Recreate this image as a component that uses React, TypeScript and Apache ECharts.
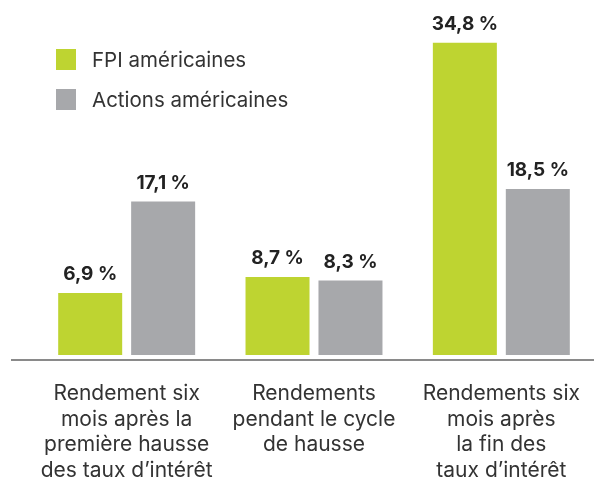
import React, { useEffect, useRef } from "react";
import * as echarts from "echarts";

const categories = [
  "Rendement six\nmois après la\npremière hausse\ndes taux d’intérêt",
  "Rendements\npendant le cycle\nde hausse",
  "Rendements six\nmois après\nla fin des\ntaux d’intérêt",
];
const seriesNames = ["FPI américaines", "Actions américaines"];
const fpiValues = [6.9, 8.7, 34.8];
const actionsValues = [17.1, 8.3, 18.5];
const colors = ["#bed431", "#a7a8ab"];

export default function App() {
  const ref = useRef<HTMLDivElement>(null);
  useEffect(() => {
    if (!ref.current) return;
    const chart = echarts.init(ref.current, undefined, { renderer: "svg" });
    const fmt = (p: any) => String(p.value).replace(".", ",") + " %";
    const labelStyle = {
      show: true,
      position: "top",
      distance: 10,
      formatter: fmt,
      fontFamily: "Inter",
      fontWeight: 700,
      fontSize: 19,
      color: "#222222",
    };
    chart.setOption({
      animation: false,
      textStyle: { fontFamily: "Inter" },
      grid: { left: 33, right: -5, top: 41, bottom: 122.5, containLabel: false },
      legend: {
        orient: "vertical",
        left: 56,
        top: 49,
        padding: 0,
        itemWidth: 20,
        itemHeight: 21,
        itemGap: 19,
        icon: "rect",
        selectedMode: false,
        textStyle: {
          fontFamily: "Inter",
          fontSize: 20.5,
          color: "#333333",
          padding: [0, 0, 0, 11],
        },
        data: seriesNames,
      },
      xAxis: {
        type: "category",
        data: categories,
        axisLine: { show: false },
        axisTick: { show: false },
        axisLabel: {
          interval: 0,
          margin: 25,
          fontFamily: "Inter",
          fontSize: 21,
          lineHeight: 25.5,
          color: "#333333",
          align: "center",
        },
      },
      yAxis: {
        type: "value",
        min: 0,
        max: 35,
        show: false,
        splitLine: { show: false },
      },
      graphic: [
        {
          type: "line",
          shape: { x1: 11, y1: 360, x2: 594, y2: 360 },
          style: { stroke: "#8a8a8a", lineWidth: 2 },
          z: 10,
        },
      ],
      series: [
        {
          name: seriesNames[0],
          type: "bar",
          data: fpiValues,
          barWidth: 64,
          barGap: "14%",
          itemStyle: { color: colors[0] },
          label: labelStyle,
        },
        {
          name: seriesNames[1],
          type: "bar",
          data: actionsValues,
          barWidth: 64,
          barGap: "14%",
          itemStyle: { color: colors[1] },
          label: labelStyle,
        },
      ],
    });
    return () => chart.dispose();
  }, []);
  return (
    <div
      ref={ref}
      style={{ position: "fixed", left: 0, top: 0, width: 595, height: 482 }}
    />
  );
}
